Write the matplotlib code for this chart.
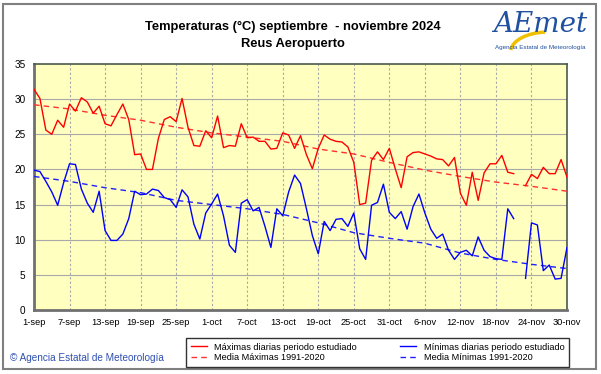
import numpy as np
import matplotlib
matplotlib.use('Agg')
import matplotlib.pyplot as plt
from matplotlib.patches import Rectangle, Arc
from matplotlib.lines import Line2D

nan = np.nan

# dias desde 1-sep
tick_days = [0, 6, 12, 18, 24, 30, 36, 42, 48, 54, 60, 66, 72, 78, 84, 90]
tick_labels = ['1-sep', '7-sep', '13-sep', '19-sep', '25-sep', '1-oct', '7-oct', '13-oct',
               '19-oct', '25-oct', '31-oct', '6-nov', '12-nov', '18-nov', '24-nov', '30-nov']

tmax = [31.4, 30.1, 25.6, 25.0, 27.0, 26.0, 29.3, 28.3, 30.2, 29.6,
        28.0, 29.0, 26.5, 26.2, 27.8, 29.3, 27.1, 22.1, 22.2, 20.0,
        20.0, 24.4, 27.1, 27.5, 26.8, 30.1, 26.0, 23.4, 23.3, 25.5,
        24.5, 27.6, 23.1, 23.4, 23.3, 26.5, 24.5, 24.6, 24.0, 24.0,
        22.9, 23.0, 25.2, 24.9, 23.0, 24.8, 22.1, 20.1, 23.0, 24.9,
        24.3, 24.0, 23.9, 23.2, 21.0, 15.0, 15.2, 21.3, 22.5, 21.4,
        23.0, 20.1, 17.4, 21.8, 22.4, 22.5, 22.2, 21.9, 21.5, 21.4,
        20.5, 21.7, 16.6, 14.9, 19.6, 15.6, 19.5, 20.8, 20.8, 22.0,
        19.6, 19.4, nan, 17.7, 19.3, 18.7, 20.3, 19.4, 19.4, 21.4,
        18.9]

tmin = [19.9, 19.7, 18.3, 16.8, 14.9, 18.1, 20.8, 20.7, 17.2, 15.2,
        13.9, 16.9, 11.3, 9.9, 9.9, 10.8, 13.0, 16.9, 16.4, 16.5,
        17.2, 17.0, 16.0, 15.7, 14.6, 17.1, 16.1, 12.2, 10.1, 13.8,
        15.1, 16.5, 13.4, 9.2, 8.2, 15.2, 15.7, 14.1, 14.6, 11.9,
        8.9, 14.4, 13.4, 16.8, 19.2, 18.0, 14.4, 10.6, 8.0, 12.6,
        11.3, 12.9, 13.0, 11.9, 13.8, 8.7, 7.2, 14.9, 15.3, 17.9,
        13.9, 13.0, 14.0, 11.5, 14.7, 16.5, 13.8, 11.5, 10.2, 10.8,
        8.5, 7.2, 8.2, 8.5, 7.7, 10.4, 8.5, 7.6, 7.3, 7.2,
        14.4, 13.0, nan, 4.5, 12.4, 12.1, 5.6, 6.4, 4.4, 4.5,
        8.9]

norm_days = [0, 6, 12, 18, 24, 30, 36, 42, 48, 54, 60, 66, 72, 78, 84, 90]
norm_max = [29.2, 28.6, 27.7, 27.0, 26.0, 25.2, 24.6, 24.0, 22.9, 22.2, 21.0, 19.9, 19.0, 18.2, 17.6, 16.9]
norm_min = [19.0, 18.3, 17.4, 16.7, 15.6, 15.0, 14.4, 13.6, 12.4, 11.0, 10.2, 9.5, 8.1, 7.2, 6.5, 5.9]

days = np.arange(len(tmax))

W, H = 601, 374
fig = plt.figure(figsize=(W / 100, H / 100), dpi=100)
plt.rcParams['font.family'] = ['Liberation Sans', 'DejaVu Sans']

# marco exterior
fig.patches.append(Rectangle((3 / W, 5 / H), 593 / W, 365 / H, transform=fig.transFigure,
                             fill=False, edgecolor='#808080', lw=1.5))

ax = fig.add_axes([34 / W, 1 - 310 / H, 533 / W, 246 / H])
ax.set_facecolor('#ffffc0')
ax.set_xlim(0, 90)
ax.set_ylim(0, 35)
ax.set_yticks(range(0, 36, 5))
ax.set_xticks(tick_days)
ax.set_xticklabels(tick_labels)
ax.tick_params(length=0, labelsize=6.7, pad=6)
ax.tick_params(axis='y', labelsize=7.2)
for y in range(5, 35, 5):
    ax.axhline(y, color='#a8a8a8', lw=0.8, zorder=1)
for d in tick_days[1:-1]:
    ax.axvline(d, color='#a8a8a8', lw=0.8, ls=(0, (2, 2)), zorder=1)
for s in ['left', 'bottom']:
    ax.spines[s].set_color('#707070')
    ax.spines[s].set_linewidth(2)
for s in ['top', 'right']:
    ax.spines[s].set_color('#4a5a4a')
    ax.spines[s].set_linewidth(1.2)

ax.plot(norm_days, norm_max, color='#ff3030', lw=1, ls=(0, (4, 3)), zorder=3)
ax.plot(norm_days, norm_min, color='#2020ff', lw=1, ls=(0, (4, 3)), zorder=3)
ax.plot(days, tmax, color='#ff0000', lw=1, zorder=4)
ax.plot(days, tmin, color='#0000ff', lw=1, zorder=4)

fig.text(293 / W, 1 - 27 / H, 'Temperaturas (°C) septiembre  - noviembre 2024', ha='center', va='center',
         fontsize=9.3, fontweight='bold')
fig.text(293 / W, 1 - 44 / H, 'Reus Aeropuerto', ha='center', va='center', fontsize=9.3, fontweight='bold')

# logo
fig.text(540 / W, 1 - 24 / H, 'AEmet', ha='center', va='center', fontsize=20, color='#2050a0',
         style='italic', family='DejaVu Serif')
fig.patches.append(Arc((548 / W, 1 - 52 / H), 75 / W, 40 / H, theta1=95, theta2=175,
                       transform=fig.transFigure, color='#f0c000', lw=2.5))
fig.text(540 / W, 1 - 48 / H, 'Agencia Estatal de Meteorología', ha='center', va='center',
         fontsize=4.5, color='#2050a0')

fig.text(10 / W, 1 - 358 / H, '© Agencia Estatal de Meteorología', ha='left', va='center',
         fontsize=7.2, color='#3050b0')

handles = [Line2D([], [], color='#ff0000', lw=1),
           Line2D([], [], color='#ff3030', lw=1, ls=(0, (4, 3))),
           Line2D([], [], color='#0000ff', lw=1),
           Line2D([], [], color='#2020ff', lw=1, ls=(0, (4, 3)))]
labels = ['Máximas diarias periodo estudiado', 'Media Máximas 1991-2020',
          'Mínimas diarias periodo estudiado', 'Media Mínimas 1991-2020']
leg = fig.legend(handles, labels, ncol=2, loc='lower left',
                 bbox_to_anchor=(186 / W, 1 - 367 / H, 383 / W, 29 / H), mode='expand',
                 borderaxespad=0, fontsize=6.6, frameon=True, fancybox=False,
                 handlelength=1.8, labelspacing=0.2, borderpad=0.5, columnspacing=2.5)
leg.get_frame().set_edgecolor('#000000')
leg.get_frame().set_linewidth(1)

fig.savefig('out.png', dpi=100)
